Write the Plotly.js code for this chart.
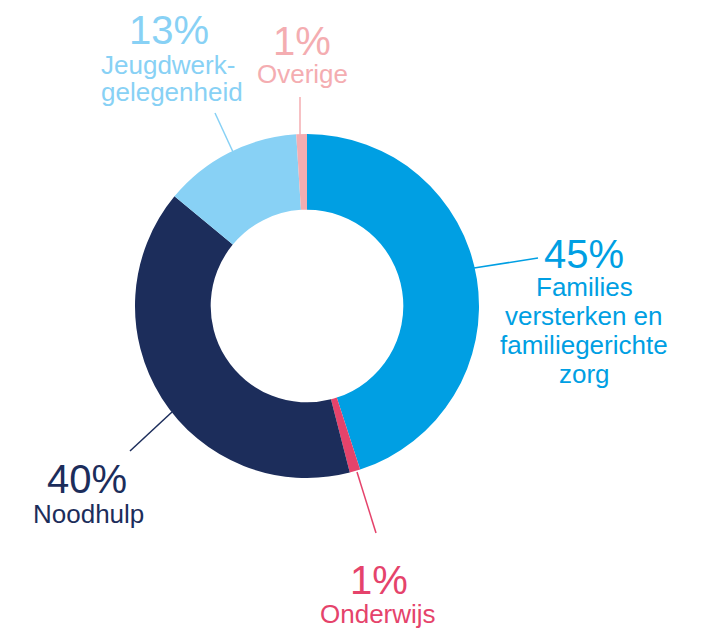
<!DOCTYPE html>
<html>
<head>
<meta charset="utf-8">
<script src="https://cdn.plot.ly/plotly-3.0.1.min.js"></script>
<style>html,body{margin:0;padding:0;background:#fff;}#chart{width:708px;height:628px;}</style>
</head>
<body>
<div id="chart"></div>
<script>
// Data
var categories = ["Families versterken en familiegerichte zorg", "Onderwijs", "Noodhulp", "Jeugdwerkgelegenheid", "Overige"];
var values = [45, 1, 40, 13, 1];
var percentLabels = ["45%", "1%", "40%", "13%", "1%"];
var labelLines = [
  ["Families", "versterken en", "familiegerichte", "zorg"],
  ["Onderwijs"],
  ["Noodhulp"],
  ["Jeugdwerk-", "gelegenheid"],
  ["Overige"]
];
var colors = ["#009fe3", "#e5436b", "#1c2d5b", "#88d1f5", "#f4adb1"];

// Layout config (pixel positions of labels and leader lines)
var W = 708, H = 628;
var labelPos = [
  {pct: [584, 254], lines: [[584, 287], [584, 316], [584, 345], [584, 374]], lead: [[474, 268], [538, 258]]},
  {pct: [379, 580], lines: [[378, 614]], lead: [[357, 472], [376, 533]]},
  {pct: [87, 479], lines: [[88, 514]], lead: [[172, 412], [130, 451]]},
  {pct: [169, 30], lines: [[168, 65], [172, 92]], lead: [[233, 152], [215, 113]]},
  {pct: [302, 41], lines: [[302, 74]], lead: [[300, 136], [300, 97]]}
];
function px(x) { return x / W; }
function py(y) { return (H - y) / H; }

var cx = 307, cy = 306, R = 172;
var trace = {
  type: "pie",
  labels: categories,
  values: values,
  sort: false,
  direction: "clockwise",
  rotation: 0,
  hole: 0.56,
  textinfo: "none",
  hoverinfo: "label+percent",
  marker: {colors: colors, line: {width: 0}},
  domain: {x: [px(cx - R), px(cx + R)], y: [py(cy + R), py(cy - R)]},
  showlegend: false
};

var annotations = [];
var shapes = [];
var fontFam = "Liberation Sans, Arial, Helvetica, sans-serif";
for (var i = 0; i < categories.length; i++) {
  var p = labelPos[i];
  annotations.push({
    text: percentLabels[i], xref: "paper", yref: "paper",
    x: px(p.pct[0]), y: py(p.pct[1]), xanchor: "center", yanchor: "middle",
    showarrow: false, font: {family: fontFam, size: 40, color: colors[i]}
  });
  for (var j = 0; j < labelLines[i].length; j++) {
    annotations.push({
      text: labelLines[i][j], xref: "paper", yref: "paper",
      x: px(p.lines[j][0]), y: py(p.lines[j][1]), xanchor: "center", yanchor: "middle",
      showarrow: false, font: {family: fontFam, size: 26, color: colors[i]}
    });
  }
  shapes.push({
    type: "line", xref: "paper", yref: "paper",
    x0: px(p.lead[0][0]), y0: py(p.lead[0][1]), x1: px(p.lead[1][0]), y1: py(p.lead[1][1]),
    line: {color: colors[i], width: 1.5}
  });
}

var layout = {
  width: W, height: H,
  margin: {l: 0, r: 0, t: 0, b: 0},
  paper_bgcolor: "#ffffff",
  plot_bgcolor: "#ffffff",
  annotations: annotations,
  shapes: shapes,
  showlegend: false
};

Plotly.newPlot("chart", [trace], layout, {displayModeBar: false, staticPlot: true});
</script>
</body>
</html>
